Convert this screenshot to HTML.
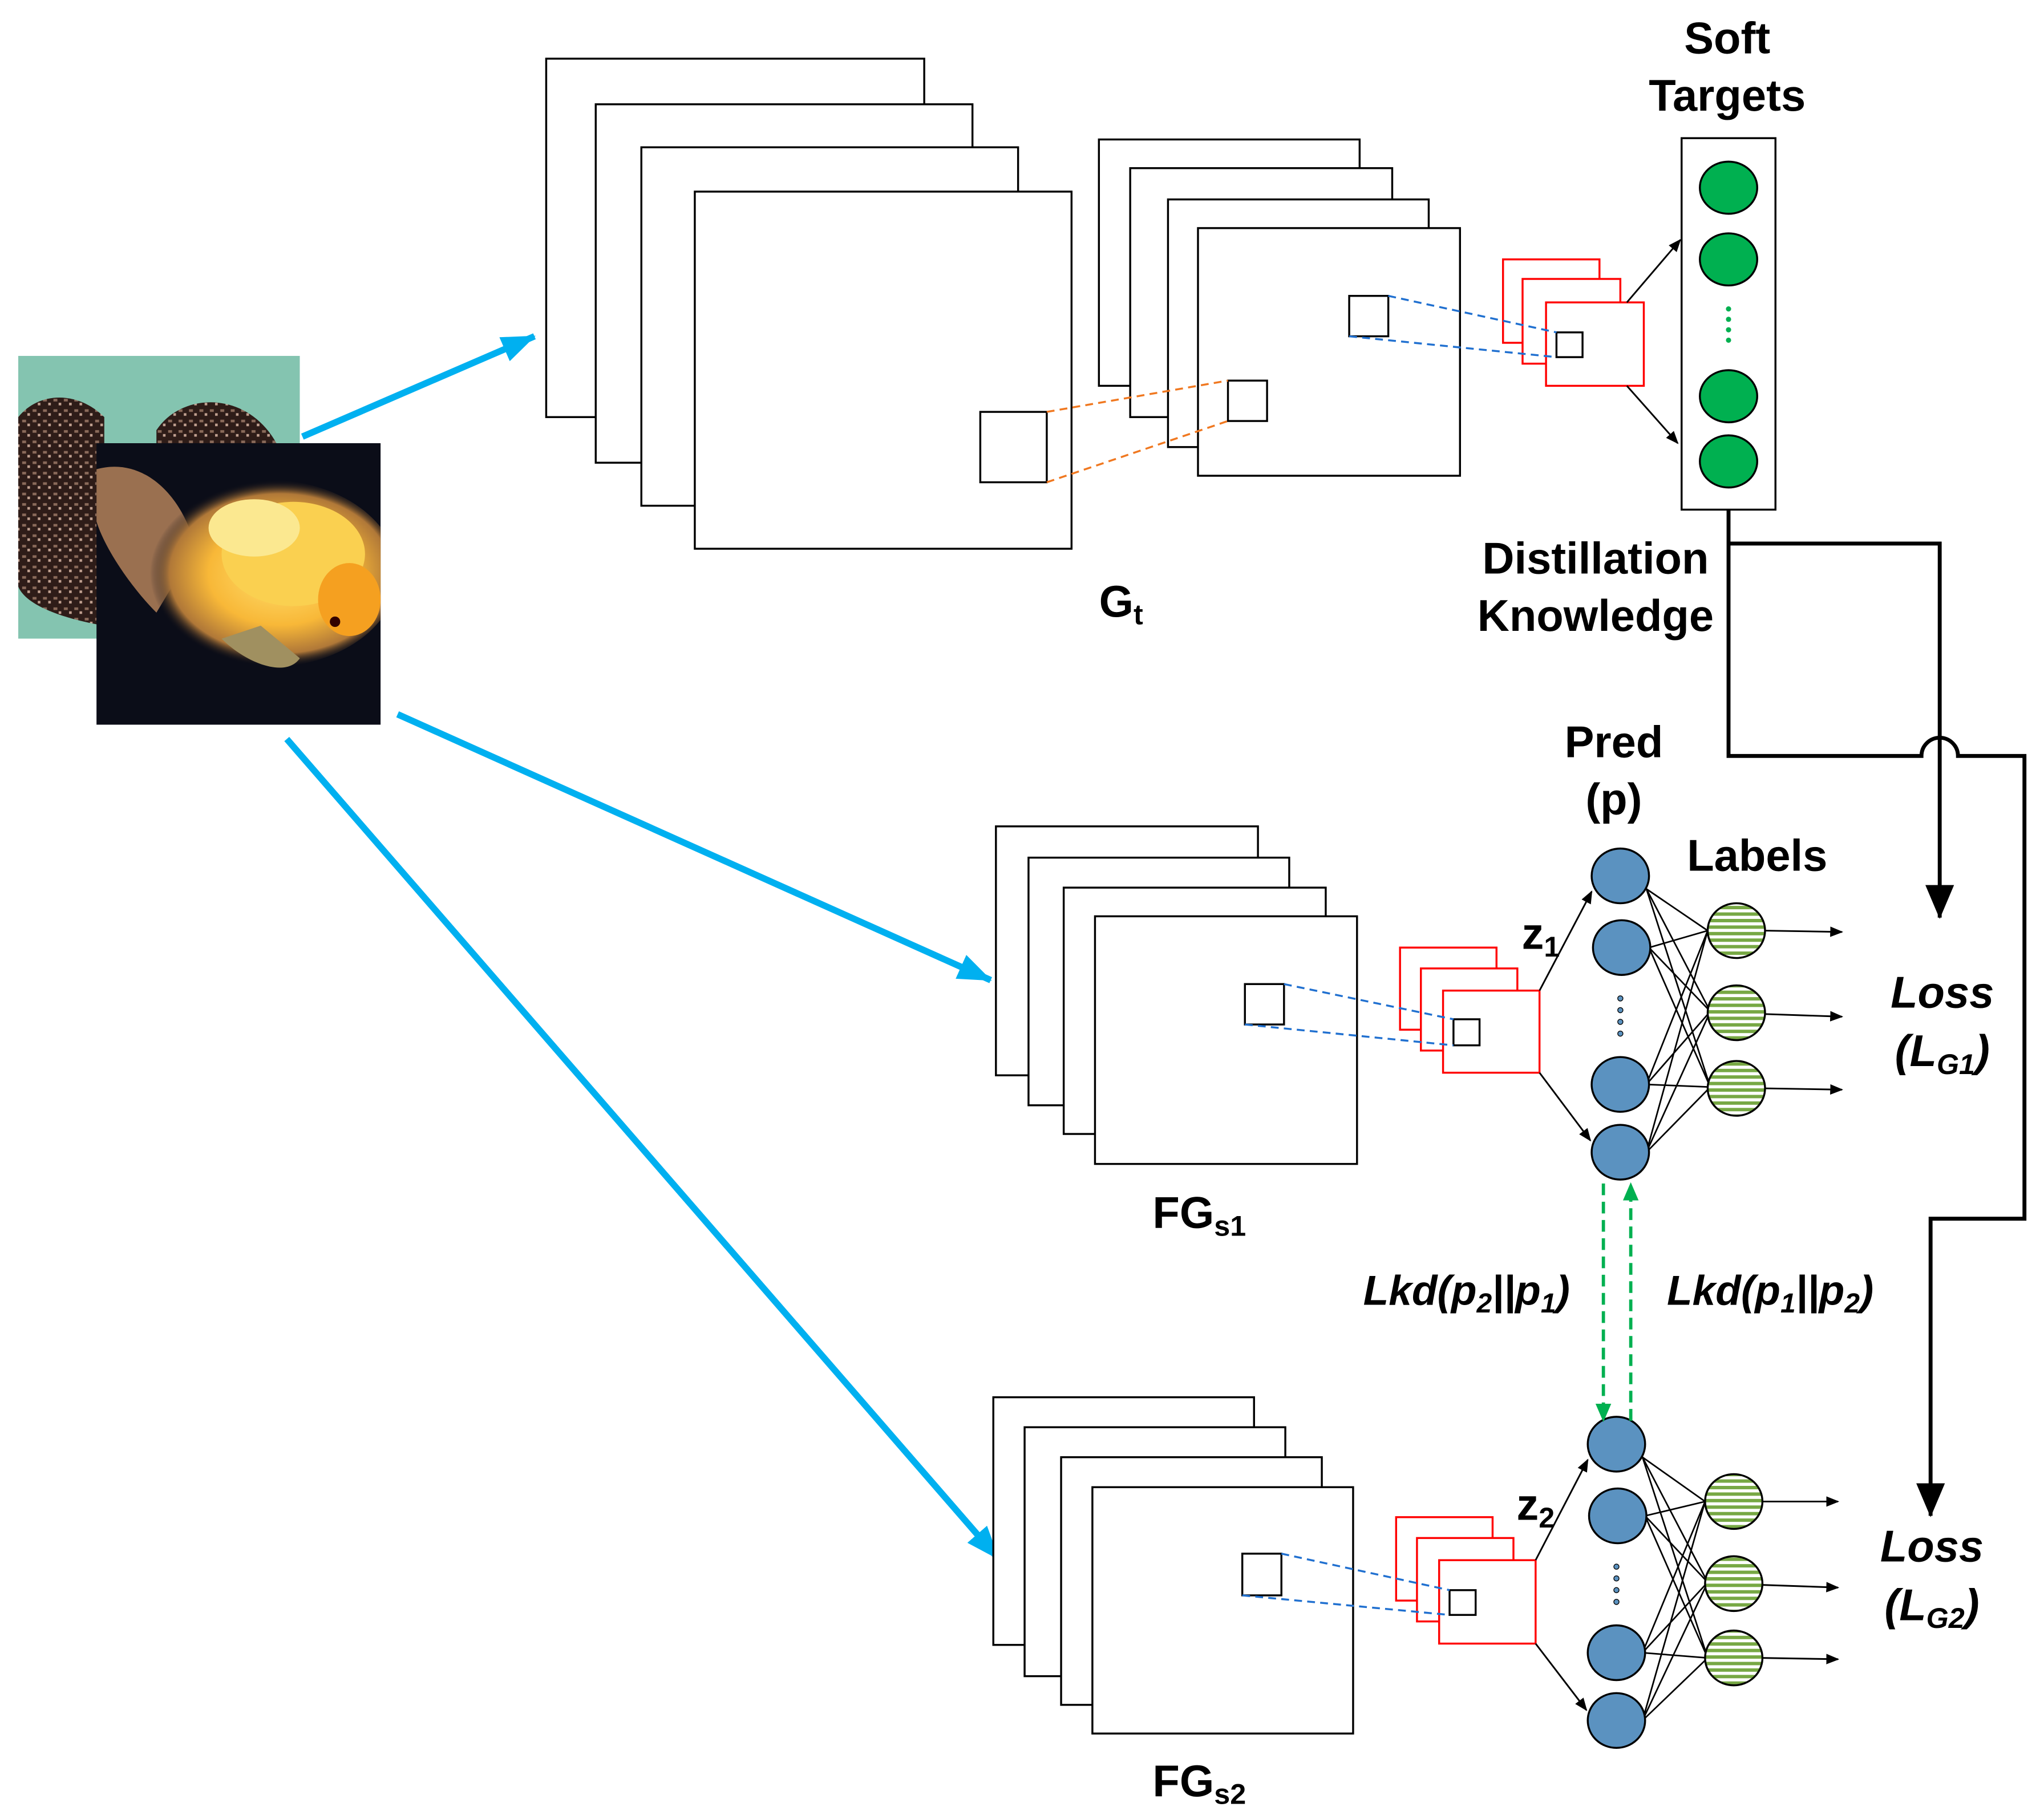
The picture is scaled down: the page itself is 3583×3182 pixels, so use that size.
<!DOCTYPE html>
<html><head><meta charset="utf-8"><style>html,body{margin:0;padding:0;background:#fff}svg{display:block}text{font-family:"Liberation Sans",Arial,sans-serif;font-weight:bold;fill:#000}</style></head>
<body>
<svg width="3583" height="3182" viewBox="0 0 1568 1392.5" xmlns="http://www.w3.org/2000/svg">
<defs>
<marker id="ab" markerWidth="10" markerHeight="10" refX="9" refY="5" orient="auto" markerUnits="userSpaceOnUse"><path d="M0,1 L10,5 L0,9 z" fill="#000"/></marker>
<marker id="abl" markerWidth="26" markerHeight="22" refX="25" refY="11" orient="auto" markerUnits="userSpaceOnUse"><path d="M0,1 L26,11 L0,21 z" fill="#00b0f0"/></marker>
<marker id="ag" markerWidth="14" markerHeight="12" refX="13" refY="6" orient="auto" markerUnits="userSpaceOnUse"><path d="M0,0 L14,6 L0,12 z" fill="#00b050"/></marker>
<marker id="abig" markerWidth="26" markerHeight="22" refX="25" refY="11" orient="auto" markerUnits="userSpaceOnUse"><path d="M0,0 L26,11 L0,22 z" fill="#000"/></marker>
<pattern id="hatch" width="6" height="5" patternUnits="userSpaceOnUse"><rect width="6" height="5" fill="#fff"/><rect width="6" height="2.6" fill="#77a844"/></pattern>
<pattern id="snake" width="8" height="8" patternUnits="userSpaceOnUse"><rect width="8" height="8" fill="#2e1c18"/><rect x="1" y="2" width="3" height="2" fill="#8a6a5a"/><rect x="5" y="5" width="2" height="2" fill="#c0a090"/></pattern>
<radialGradient id="fish" cx="0.55" cy="0.5" r="0.5"><stop offset="0" stop-color="#ffe070"/><stop offset="0.55" stop-color="#f8b838"/><stop offset="0.85" stop-color="#b07838"/><stop offset="1" stop-color="#0b0d18" stop-opacity="0"/></radialGradient>
<clipPath id="fc"><rect x="74" y="340" width="218" height="216"/></clipPath>
<clipPath id="bc"><rect x="14" y="273" width="216" height="217"/></clipPath>
</defs>
<!-- images -->
<g clip-path="url(#bc)">
<rect x="14" y="273" width="216" height="217" fill="#84c4b0"/>
<path d="M14,320 C30,300 60,300 80,320 L80,480 C50,475 20,465 14,450 Z" fill="url(#snake)"/>
<path d="M120,330 C140,300 190,300 212,340 L120,345 Z" fill="url(#snake)"/>
</g>
<g clip-path="url(#fc)">
<rect x="74" y="340" width="218" height="216" fill="#0b0d18"/>
<path d="M74,360 C110,350 140,380 150,420 L120,470 C100,450 80,420 74,400 Z" fill="#9a7050"/>
<ellipse cx="205" cy="440" rx="100" ry="72" fill="url(#fish)"/>
<ellipse cx="225" cy="425" rx="55" ry="40" fill="#fad050"/>
<ellipse cx="195" cy="405" rx="35" ry="22" fill="#fbe890"/>
<ellipse cx="268" cy="460" rx="24" ry="28" fill="#f5a020"/>
<path d="M170,490 C190,510 220,520 230,505 L200,480 Z" fill="#a09060"/>
<circle cx="257" cy="477" r="4" fill="#300"/>
</g>
<!-- blue arrows -->
<g stroke="#00b0f0" stroke-width="5" fill="none">
<line x1="232" y1="335" x2="410" y2="258" marker-end="url(#abl)"/>
<line x1="305" y1="548" x2="760" y2="752" marker-end="url(#abl)"/>
<line x1="220" y1="567" x2="766" y2="1196" marker-end="url(#abl)"/>
</g>
<g fill="#fff" stroke="#000" stroke-width="1.5">
<rect x="419" y="45" width="290" height="275"/><rect x="457" y="80" width="289" height="275"/><rect x="492" y="113" width="289" height="275"/><rect x="533" y="147" width="289" height="274"/>
<rect x="752" y="316" width="51" height="54"/>
<rect x="843" y="107" width="200" height="189"/><rect x="867" y="129" width="201" height="191"/><rect x="896" y="153" width="200" height="190"/><rect x="919" y="175" width="201" height="190"/>
<rect x="942" y="292" width="30" height="31"/><rect x="1035" y="227" width="30" height="31"/>
<rect x="764" y="634" width="201" height="191"/><rect x="789" y="658" width="200" height="190"/><rect x="816" y="681" width="201" height="189"/><rect x="840" y="703" width="201" height="190"/>
<rect x="955" y="755" width="30" height="31"/>
<rect x="762" y="1072" width="200" height="190"/><rect x="786" y="1095" width="200" height="191"/><rect x="814" y="1118" width="200" height="190"/><rect x="838" y="1141" width="200" height="189"/>
<rect x="953" y="1192" width="30" height="32"/>
</g>
<g fill="#fff" stroke="#f00" stroke-width="1.5">
<rect x="1153" y="199" width="74" height="64"/><rect x="1168" y="214" width="75" height="65"/><rect x="1186" y="232" width="75" height="64"/>
<rect x="1074" y="727" width="74" height="63"/><rect x="1090" y="743" width="74" height="63"/><rect x="1107" y="760" width="74" height="63"/>
<rect x="1071" y="1164" width="74" height="64"/><rect x="1087" y="1180" width="74" height="64"/><rect x="1104" y="1197" width="74" height="64"/>
</g>
<g fill="#fff" stroke="#000" stroke-width="1.5">
<rect x="1194" y="255" width="20" height="19"/><rect x="1115" y="782" width="20" height="20"/><rect x="1112" y="1220" width="20" height="19"/>
</g>
<g stroke-dasharray="6,4" stroke-width="1.5" fill="none">
<path d="M803,316 L942,292 M803,370 L942,323" stroke="#f07820"/>
<path d="M1065,227 L1194,255 M1035,258 L1194,274" stroke="#2070d0"/>
<path d="M985,755 L1115,782 M955,786 L1115,802" stroke="#2070d0"/>
<path d="M983,1192 L1112,1220 M953,1224 L1112,1239" stroke="#2070d0"/>
</g>
<!-- soft targets -->
<rect x="1290" y="106" width="72" height="285" fill="#fff" stroke="#000" stroke-width="1.5"/>
<g fill="#00b050" stroke="#000" stroke-width="1.5">
<ellipse cx="1326" cy="144" rx="22" ry="20"/><ellipse cx="1326" cy="199" rx="22" ry="20"/><ellipse cx="1326" cy="304" rx="22" ry="20"/><ellipse cx="1326" cy="354" rx="22" ry="20"/>
</g>
<g fill="#00b050"><circle cx="1326" cy="237" r="2"/><circle cx="1326" cy="245" r="2"/><circle cx="1326" cy="253" r="2"/><circle cx="1326" cy="261" r="2"/></g>
<g stroke="#000" stroke-width="1.3" fill="none">
<line x1="1248" y1="232" x2="1289" y2="184" marker-end="url(#ab)"/>
<line x1="1248" y1="296" x2="1287" y2="340" marker-end="url(#ab)"/>
<line x1="1181" y1="760" x2="1221" y2="684" marker-end="url(#ab)"/>
<line x1="1181" y1="823" x2="1220" y2="875" marker-end="url(#ab)"/>
<line x1="1178" y1="1197" x2="1218" y2="1120" marker-end="url(#ab)"/>
<line x1="1178" y1="1261" x2="1217" y2="1312" marker-end="url(#ab)"/>
<line x1="1354" y1="714" x2="1413" y2="715" marker-end="url(#ab)"/>
<line x1="1354" y1="778" x2="1413" y2="780" marker-end="url(#ab)"/>
<line x1="1354" y1="835" x2="1413" y2="836" marker-end="url(#ab)"/>
<line x1="1352" y1="1152" x2="1410" y2="1152" marker-end="url(#ab)"/>
<line x1="1352" y1="1216" x2="1410" y2="1218" marker-end="url(#ab)"/>
<line x1="1352" y1="1272" x2="1410" y2="1273" marker-end="url(#ab)"/>
</g>
<!-- full connections -->
<g stroke="#000" stroke-width="1.2">
<path d="M1263,682 L1310,714 M1263,682 L1312,776 M1263,682 L1312,834 M1265,727 L1310,714 M1265,727 L1312,776 M1265,727 L1312,834 M1263,832 L1310,714 M1263,832 L1312,776 M1263,832 L1312,834 M1263,884 L1310,714 M1263,884 L1312,776 M1263,884 L1312,834"/>
<path d="M1260,1118 L1308,1152 M1260,1118 L1310,1214 M1260,1118 L1310,1272 M1262,1163 L1308,1152 M1262,1163 L1310,1214 M1262,1163 L1310,1272 M1260,1268 L1308,1152 M1260,1268 L1310,1214 M1260,1268 L1310,1272 M1260,1320 L1308,1152 M1260,1320 L1310,1214 M1260,1320 L1310,1272"/>
</g>
<g fill="#5b92c0" stroke="#000" stroke-width="1.5">
<ellipse cx="1243" cy="672" rx="22" ry="21"/><ellipse cx="1244" cy="727" rx="22" ry="21"/><ellipse cx="1243" cy="832" rx="22" ry="21"/><ellipse cx="1243" cy="884" rx="22" ry="21"/>
<ellipse cx="1240" cy="1108" rx="22" ry="21"/><ellipse cx="1241" cy="1163" rx="22" ry="21"/><ellipse cx="1240" cy="1268" rx="22" ry="21"/><ellipse cx="1240" cy="1320" rx="22" ry="21"/>
</g>
<g fill="#5b92c0" stroke="#000" stroke-width="0.6">
<circle cx="1243" cy="766" r="2"/><circle cx="1243" cy="775" r="2"/><circle cx="1243" cy="784" r="2"/><circle cx="1243" cy="793" r="2"/>
<circle cx="1240" cy="1202" r="2"/><circle cx="1240" cy="1211" r="2"/><circle cx="1240" cy="1220" r="2"/><circle cx="1240" cy="1229" r="2"/>
</g>
<g fill="url(#hatch)" stroke="#000" stroke-width="1.5">
<ellipse cx="1332" cy="714" rx="22" ry="21"/><ellipse cx="1332" cy="777" rx="22" ry="21"/><ellipse cx="1332" cy="835" rx="22" ry="21"/>
<ellipse cx="1330" cy="1152" rx="22" ry="21"/><ellipse cx="1330" cy="1215" rx="22" ry="21"/><ellipse cx="1330" cy="1272" rx="22" ry="21"/>
</g>
<!-- green dashed -->
<g stroke="#00b050" stroke-width="2.5" stroke-dasharray="9,5" fill="none">
<line x1="1230" y1="908" x2="1230" y2="1090" marker-end="url(#ag)"/>
<line x1="1251" y1="1090" x2="1251" y2="908" marker-end="url(#ag)"/>
</g>
<!-- black feedback lines -->
<g stroke="#000" stroke-width="3" fill="none">
<path d="M1326,391 L1326,580 L1474,580 A14,14 0 0 1 1502,580 L1553,580 L1553,935 L1481,935 L1481,1163" marker-end="url(#abig)"/>
<path d="M1326,417 L1488,417 L1488,704" marker-end="url(#abig)"/>
</g>
<!-- text -->
<g font-size="34" text-anchor="middle">
<text x="1325" y="41">Soft</text><text x="1325" y="85">Targets</text>
<text x="1224" y="440">Distillation</text><text x="1224" y="484">Knowledge</text>
<text x="860" y="473">G<tspan font-size="22" dy="6">t</tspan></text>
<text x="1238" y="581">Pred</text><text x="1238" y="625">(p)</text>
<text x="1348" y="668">Labels</text>
<text x="1182" y="728">z<tspan font-size="22" dy="6">1</tspan></text>
<text x="1178" y="1166">z<tspan font-size="22" dy="6">2</tspan></text>
<text x="920" y="942">FG<tspan font-size="22" dy="6">s1</tspan></text>
<text x="920" y="1378">FG<tspan font-size="22" dy="6">s2</tspan></text>
<g font-style="italic">
<text x="1490" y="773">Loss</text><text x="1490" y="818">(L<tspan font-size="22" dy="6">G1</tspan><tspan dy="-6">)</tspan></text>
<text x="1482" y="1198">Loss</text><text x="1482" y="1243">(L<tspan font-size="22" dy="6">G2</tspan><tspan dy="-6">)</tspan></text>
<text x="1125" y="1001" font-size="32">Lkd(p<tspan font-size="21" dy="6">2</tspan><tspan dy="-6">||p</tspan><tspan font-size="21" dy="6">1</tspan><tspan dy="-6">)</tspan></text>
<text x="1358" y="1001" font-size="32">Lkd(p<tspan font-size="21" dy="6">1</tspan><tspan dy="-6">||p</tspan><tspan font-size="21" dy="6">2</tspan><tspan dy="-6">)</tspan></text>
</g>
</g>
</svg>
</body></html>
